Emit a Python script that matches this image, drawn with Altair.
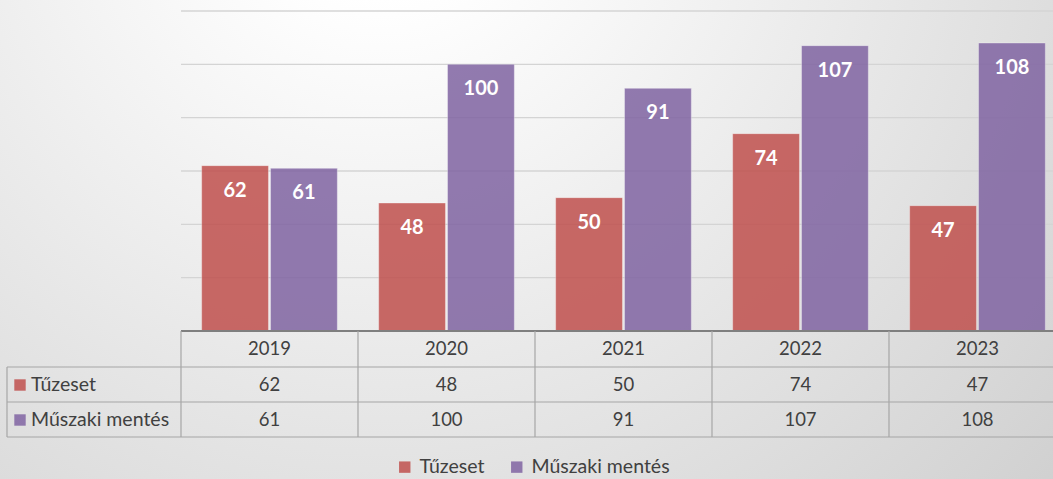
import altair as alt
import pandas as pd

years = ["2019", "2020", "2021", "2022", "2023"]
series = ["Tűzeset", "Műszaki mentés"]
tuzeset = [62, 48, 50, 74, 47]
muszaki = [61, 100, 91, 107, 108]
gridvals = [0, 20, 40, 60, 80, 100, 120]
colors = ["#C0504D", "#8064A2"]

rows = []
for i, y in enumerate(years):
    rows.append({"year": y, "series": series[0], "value": tuzeset[i]})
    rows.append({"year": y, "series": series[1], "value": muszaki[i]})
df = pd.DataFrame(rows)
one = pd.DataFrame({"a": [0]})

FONT = "Lato"
TXT = "#404040"
FS = 18.5
FSL = 19.5
W, H = 872, 320
ROWY = [374, 409]

xs = alt.Scale(domain=years, range=[0, 885], paddingInner=0, paddingOuter=0)
xo = alt.Scale(domain=series, paddingInner=0.03, paddingOuter=0.3)
ys = alt.Scale(domain=[0, 120])
cs = alt.Scale(domain=series, range=colors)
leg = alt.Legend(orient="none", legendX=214, legendY=446, direction="horizontal",
                 title=None, symbolType="square", symbolSize=130, symbolStrokeWidth=0,
                 symbolOpacity=0.85, labelFont=FONT, labelFontSize=FSL, labelColor=TXT,
                 columnPadding=22, labelOffset=5)
color = alt.Color("series:N", scale=cs, legend=leg)

bg = alt.Chart(one).mark_rect(
    fill=alt.Gradient(gradient="radial", x1=0.36, y1=0.15, r1=0.0, x2=0.36, y2=0.15, r2=1.0,
                      stops=[alt.GradientStop(color="#ffffff", offset=0),
                             alt.GradientStop(color="#ffffff", offset=0.12),
                             alt.GradientStop(color="#c8c8c8", offset=1)])
).encode(x=alt.value(-181), x2=alt.value(W), y=alt.value(-11), y2=alt.value(468))

grid = alt.Chart(pd.DataFrame({"g": gridvals})).mark_rule(color="#d4d4d4", strokeWidth=1.3).encode(
    x=alt.value(0), x2=alt.value(W),
    y=alt.Y("g:Q", scale=ys, axis=None),
)

bars = alt.Chart(df).mark_bar(opacity=0.85, stroke="white", strokeOpacity=0.35, strokeWidth=1).encode(
    x=alt.X("year:N", scale=xs, axis=None),
    xOffset=alt.XOffset("series:N", scale=xo),
    y=alt.Y("value:Q", scale=ys, axis=None),
    color=color,
)

labels = alt.Chart(df).mark_text(font=FONT, fontSize=20, fontWeight="bold", color="white",
                                 baseline="middle", dy=25).encode(
    x=alt.X("year:N", scale=xs),
    xOffset=alt.XOffset("series:N", scale=xo),
    y=alt.Y("value:Q", scale=ys),
    text="value:Q",
)

# data table
hl = []
for yy in [356, 391, 426]:
    hl.append(alt.Chart(one).mark_rule(color="#a6a6a6", strokeWidth=1.2).encode(
        x=alt.value(-174), x2=alt.value(W), y=alt.value(yy)))
top = alt.Chart(one).mark_rule(color="#7f7f7f", strokeWidth=1.8).encode(
    x=alt.value(0), x2=alt.value(W), y=alt.value(320))
vlines = alt.Chart(pd.DataFrame({"year": years})).mark_rule(color="#a6a6a6", strokeWidth=1.2).encode(
    x=alt.X("year:N", scale=xs, bandPosition=0), y=alt.value(320), y2=alt.value(426))
vleft = alt.Chart(one).mark_rule(color="#a6a6a6", strokeWidth=1.2).encode(
    x=alt.value(-174), y=alt.value(356), y2=alt.value(426))

yeartxt = alt.Chart(pd.DataFrame({"year": years})).mark_text(
    font=FONT, fontSize=FS, color=TXT, baseline="middle").encode(
    x=alt.X("year:N", scale=xs, bandPosition=0.5), y=alt.value(338), text="year:N")

rowlayers = []
for s, yy in zip(series, ROWY):
    rowlayers.append(alt.Chart(df).transform_filter(alt.datum.series == s).mark_text(
        font=FONT, fontSize=FS, color=TXT, baseline="middle").encode(
        x=alt.X("year:N", scale=xs, bandPosition=0.5), y=alt.value(yy), text="value:Q"))
    sd = pd.DataFrame({"series": [s]})
    rowlayers.append(alt.Chart(sd).mark_text(
        font=FONT, fontSize=FSL, color=TXT, align="left", baseline="middle").encode(
        x=alt.value(-150), y=alt.value(yy), text="series:N"))
    rowlayers.append(alt.Chart(sd).mark_square(size=130, opacity=0.85, filled=True).encode(
        x=alt.value(-161), y=alt.value(yy), color=color))

chart = alt.layer(bg, grid, bars, labels, *hl, top, vlines, vleft, yeartxt, *rowlayers).properties(
    width=W, height=H,
    autosize=alt.AutoSizeParams(type="none"),
    padding={"left": 181, "top": 11, "right": 0, "bottom": 148},
    background="#e2e2e2",
).configure_view(stroke=None, fill=None)

chart.save("out.html", embed_options={"renderer": "svg", "actions": False})
